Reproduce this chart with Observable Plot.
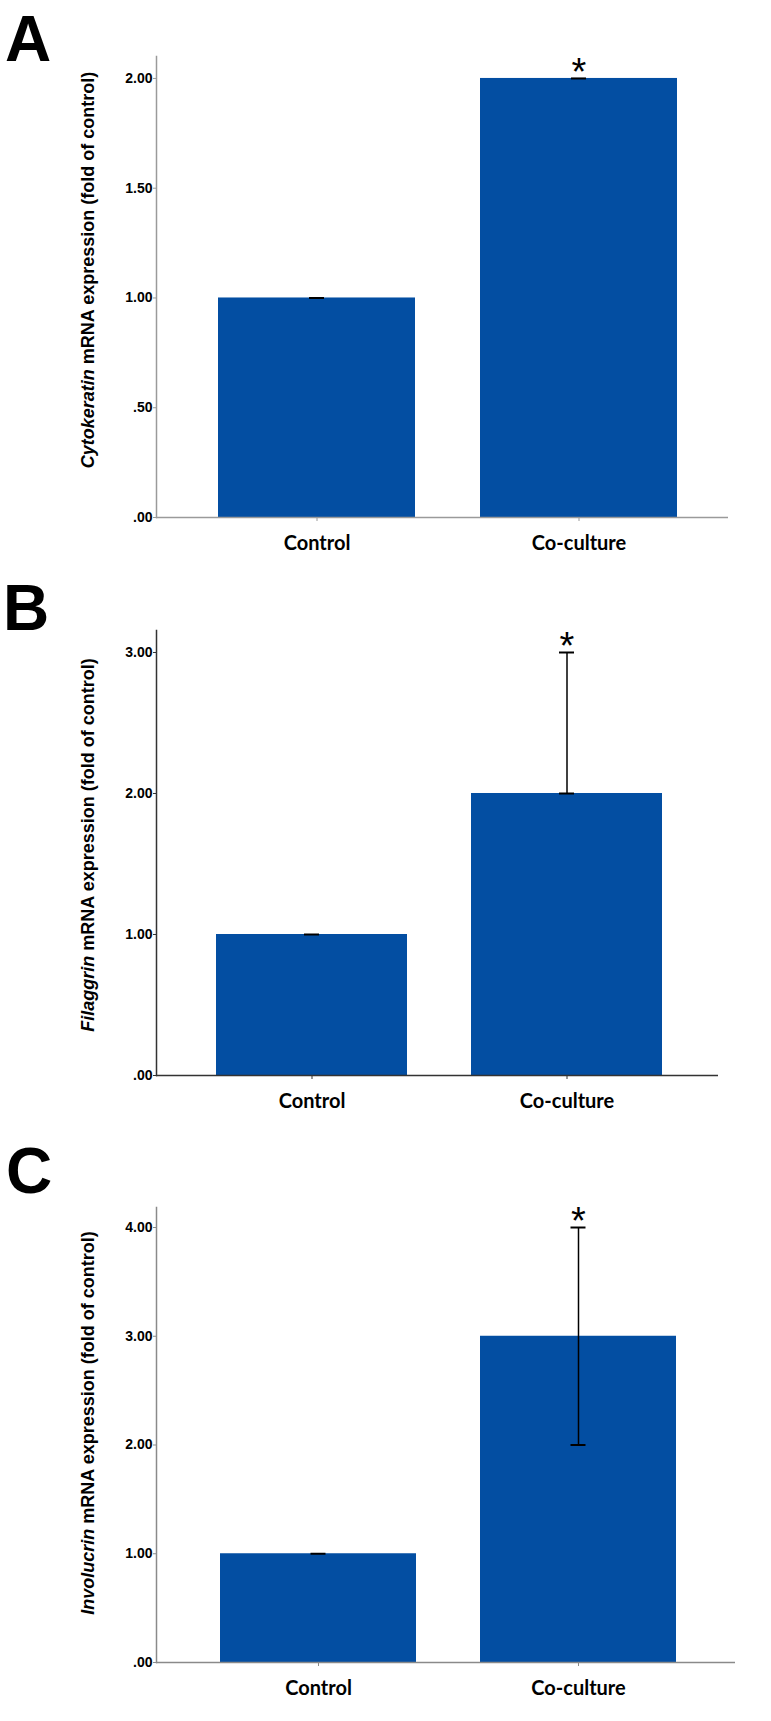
<!DOCTYPE html>
<html><head><meta charset="utf-8">
<script src="https://cdn.jsdelivr.net/npm/d3@7"></script>
<script src="https://cdn.jsdelivr.net/npm/@observablehq/plot@0.6"></script>
<style>
body{margin:0;background:#fff;}
#root{position:relative;width:771px;height:1721px;overflow:hidden;background:#fff;}
.panel{position:absolute;left:0;}
.letter{position:absolute;font:bold 64px/1.1 "Liberation Sans",Arial,sans-serif;color:#000;}
.ytitle{position:absolute;white-space:nowrap;transform:translate(-50%,-50%) rotate(-90deg);font:bold 18px/1 "Liberation Sans",Arial,sans-serif;color:#000;}
</style></head><body><div id="root"></div>
<script>
// ---- data ----
const categories = ["Control", "Co-culture"];
const significant = [false, true];

const cytokeratinMean = [1.0, 2.0];
const cytokeratinLow  = [1.0, 2.0];
const cytokeratinHigh = [1.0, 2.0];

const filaggrinMean = [1.0, 2.0];
const filaggrinLow  = [1.0, 2.0];
const filaggrinHigh = [1.0, 3.0];

const involucrinMean = [1.0, 3.0];
const involucrinLow  = [1.0, 2.0];
const involucrinHigh = [1.0, 4.0];

const ticksA = [0, 0.5, 1, 1.5, 2];
const ticksB = [0, 1, 2, 3];
const ticksC = [0, 1, 2, 3, 4];

const panelLetters = ["A", "B", "C"];
const geneNames = ["Cytokeratin", "Filaggrin", "Involucrin"];
const titleRest = " mRNA expression (fold of control)";

const tickFormat = d => d3.format(".2f")(d).replace(/^0/, "");

function rows(mean, low, high) {
  return categories.map((c, i) => ({cat: c, mean: mean[i], low: low[i], high: high[i], sig: significant[i]}));
}

const panels = [
  {data: rows(cytokeratinMean, cytokeratinLow, cytokeratinHigh), ticks: ticksA, top: 0, height: 560,
   mt: 56, mb: 43, mr: 43, yMax: 2.1, pi: 0.248, po: 0.213, align: 0.55, inset: 91,
   axisColor: "#9a9a9a", letterTop: 4, letterLeft: 5, titleCenter: 270},
  {data: rows(filaggrinMean, filaggrinLow, filaggrinHigh), ticks: ticksB, top: 560, height: 560,
   mt: 70, mb: 45, mr: 53, yMax: 3.156, pi: 0.25, po: 0.225, align: 0.52, inset: 88,
   axisColor: "#333333", letterTop: 573, letterLeft: 3, titleCenter: 845},
  {data: rows(involucrinMean, involucrinLow, involucrinHigh), ticks: ticksC, top: 1120, height: 601,
   mt: 87, mb: 59, mr: 36, yMax: 4.184, pi: 0.246, po: 0.234, align: 0.52, inset: 90.5,
   axisColor: "#8a8a8a", letterTop: 1136, letterLeft: 6, titleCenter: 1423}
];

const root = document.getElementById("root");

panels.forEach((p, k) => {
  const errs = p.data.filter(d => d.high > d.low);
  const chart = Plot.plot({
    width: 771, height: p.height,
    marginLeft: 156, marginRight: p.mr, marginTop: p.mt, marginBottom: p.mb,
    style: {background: "transparent", overflow: "visible"},
    x: {domain: categories, paddingInner: p.pi, paddingOuter: p.po, align: p.align, axis: null},
    y: {domain: [0, p.yMax], axis: null},
    marks: [
      Plot.barY(p.data, {x: "cat", y: "mean", fill: "#034ea2"}),
      Plot.ruleX(errs, {x: "cat", y1: "low", y2: "high", stroke: "#000", strokeWidth: 1.5}),
      Plot.tickY(p.data, {x: "cat", y: "high", stroke: "#000", strokeWidth: 2, insetLeft: p.inset, insetRight: p.inset}),
      Plot.tickY(errs, {x: "cat", y: "low", stroke: "#000", strokeWidth: 2, insetLeft: p.inset, insetRight: p.inset}),
      Plot.text(p.data.filter(d => d.sig), {x: "cat", y: "high", text: () => "*", fontSize: 38,
        fontFamily: "Liberation Sans, Arial, sans-serif", lineAnchor: "middle", dy: -6, fill: "#000"}),
      Plot.axisY({ticks: p.ticks, tickFormat, tickSize: 3, tickPadding: 1, fontSize: 14, fontWeight: "bold",
        fontFamily: "Liberation Sans Narrow, Arial Narrow, Liberation Sans, sans-serif",
        stroke: p.axisColor, fill: "#000", label: null}),
      Plot.axisX({tickSize: 4, tickPadding: 14, fontSize: 20, fontWeight: "bold", fontFamily: "Lato, sans-serif",
        stroke: p.axisColor, fill: "#000", label: null}),
      Plot.ruleY([0], {stroke: p.axisColor, strokeWidth: 1.5}),
      Plot.frame({anchor: "left", stroke: p.axisColor, strokeWidth: 1.5})
    ]
  });
  const wrap = document.createElement("div");
  wrap.className = "panel";
  wrap.style.top = p.top + "px";
  wrap.appendChild(chart);
  root.appendChild(wrap);

  const letter = document.createElement("div");
  letter.className = "letter";
  letter.style.top = p.letterTop + "px";
  letter.style.left = p.letterLeft + "px";
  letter.textContent = panelLetters[k];
  root.appendChild(letter);

  const title = document.createElement("div");
  title.className = "ytitle";
  title.style.left = "88px";
  title.style.top = p.titleCenter + "px";
  const it = document.createElement("i");
  it.textContent = geneNames[k];
  title.appendChild(it);
  title.appendChild(document.createTextNode(titleRest));
  root.appendChild(title);
});
</script>
</body></html>
